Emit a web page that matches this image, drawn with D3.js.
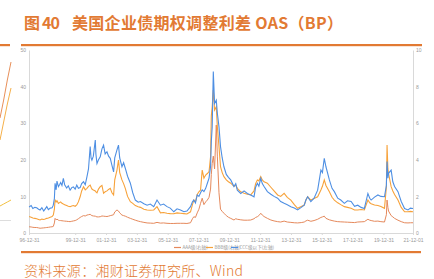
<!DOCTYPE html>
<html>
<head>
<meta charset="utf-8">
<script src="https://cdn.jsdelivr.net/npm/d3@7"></script>
<style>
  html, body { margin: 0; padding: 0; background: #fff; }
  svg { display: block; }
</style>
</head>
<body>
<svg id="chart" width="434" height="279"></svg>
<script>
// US corporate bond option-adjusted spreads by rating
const dates = [
  "1997-01-02","1997-02-20","1997-04-01","1997-05-20","1997-07-01","1997-08-15","1997-09-20","1997-11-01","1997-12-15","1998-01-20",
  "1998-02-25","1998-04-05","1998-05-18","1998-07-01","1998-07-30","1998-08-25","1998-09-10","1998-10-05","1998-10-25","1998-11-28",
  "1998-12-25","1999-01-20","1999-02-20","1999-03-25","1999-04-25","1999-06-12","1999-07-20","1999-09-01","1999-10-10","1999-11-18",
  "1999-12-30","2000-02-06","2000-03-15","2000-04-26","2000-06-01","2000-07-15","2000-08-25","2000-10-05","2000-11-10","2000-12-20",
  "2001-01-10","2001-01-30","2001-03-05","2001-04-20","2001-05-05","2001-05-30","2001-07-05","2001-08-15","2001-09-25","2001-11-02",
  "2001-12-10","2002-01-22","2002-03-01","2002-04-10","2002-05-20","2002-06-28","2002-07-25","2002-09-16","2002-10-22","2002-11-20",
  "2003-01-12","2003-02-20","2003-04-01","2003-05-25","2003-07-30","2003-09-25","2003-11-25","2004-02-01","2004-03-25","2004-06-15",
  "2004-08-30","2004-11-15","2005-02-03","2005-04-22","2005-07-12","2005-09-25","2005-12-15","2006-03-01","2006-05-25","2006-08-10",
  "2006-10-30","2007-01-20","2007-04-01","2007-06-25","2007-08-10","2007-09-12","2007-10-20","2007-12-01","2008-01-10","2008-02-18",
  "2008-03-28","2008-05-08","2008-06-18","2008-07-28","2008-09-06","2008-10-12","2008-10-30","2008-11-20","2008-12-16","2009-01-15",
  "2009-02-25","2009-03-22","2009-04-30","2009-06-05","2009-07-15","2009-08-25","2009-10-20","2009-12-10","2010-02-02","2010-04-20",
  "2010-06-01","2010-07-08","2010-09-28","2010-12-15","2011-03-03","2011-05-22","2011-08-08","2011-09-15","2011-10-26","2011-12-01",
  "2012-01-15","2012-02-20","2012-04-02","2012-06-20","2012-09-10","2012-11-25","2013-02-18","2013-05-01","2013-07-22","2013-10-05",
  "2013-12-28","2014-03-20","2014-06-06","2014-09-01","2014-11-10","2014-12-20","2015-01-30","2015-04-16","2015-07-01","2015-09-24",
  "2015-12-10","2016-01-15","2016-02-28","2016-04-08","2016-06-28","2016-08-30","2016-10-24","2017-01-12","2017-03-25","2017-06-18",
  "2017-09-01","2017-11-25","2018-02-15","2018-05-01","2018-07-20","2018-10-05","2018-12-28","2019-02-10","2019-03-15","2019-06-03",
  "2019-08-22","2019-11-01","2020-01-25","2020-03-10","2020-03-26","2020-04-15","2020-04-30","2020-07-01","2020-08-10","2020-09-20",
  "2020-12-10","2021-02-25","2021-05-15","2021-08-04","2021-10-01","2021-12-01"
];

// CCC & lower, left axis
const ccc = [
  7.1,7.5,6.7,7.0,6.9,6.5,6.3,6.9,6.0,6.6,
  7.2,6.4,6.8,6.9,7.6,9.5,13.6,11.8,14.2,12.7,
  13.2,13.8,13.0,14.9,13.2,12.3,12.9,11.7,12.4,12.6,
  12.0,13.1,12.2,12.4,13.5,14.0,13.2,15.4,17.5,23.6,
  20.5,19.9,21.0,25.4,21.5,19.0,20.0,20.8,23.0,24.0,
  21.6,22.2,21.0,20.4,18.5,16.7,20.5,22.7,24.0,20.5,
  18.1,19.2,17.7,15.5,13.6,11.0,9.0,8.4,8.6,8.0,
  7.6,7.9,7.2,9.0,7.6,7.9,7.2,6.8,5.8,6.6,
  6.3,5.8,6.0,7.2,8.5,9.0,8.2,10.4,10.0,11.0,
  11.8,11.3,12.2,13.6,15.0,18.1,25.0,29.0,44.1,35.4,
  36.3,32.7,29.0,23.6,20.5,18.1,16.0,15.2,14.5,12.7,
  13.5,11.7,10.8,11.5,10.8,10.4,9.9,12.5,13.6,12.8,
  14.9,13.5,12.7,11.3,10.6,10.0,9.5,8.6,8.1,7.7,
  7.2,6.8,6.3,7.0,7.6,9.0,9.9,8.6,9.5,11.7,
  17.2,16.5,20.4,18.1,14.5,12.2,11.3,9.5,9.0,8.1,
  8.8,8.6,7.3,7.6,7.0,6.7,10.8,9.5,9.0,9.8,
  10.4,10.0,9.9,13.0,19.5,15.0,16.3,17.2,14.0,12.7,
  11.3,8.6,6.7,6.3,6.8,6.7
];

// BBB, right axis
const bbb = [
  0.90,0.86,0.82,0.80,0.78,0.74,0.71,0.76,0.74,0.76,
  0.80,0.82,0.86,0.90,0.98,1.30,1.80,1.70,1.76,1.62,
  1.66,1.70,1.62,1.58,1.55,1.50,1.46,1.44,1.48,1.50,
  1.46,1.53,1.70,1.98,2.30,2.53,2.36,2.44,2.55,2.62,
  2.50,2.40,2.35,2.30,2.25,2.20,2.40,2.53,2.60,2.17,
  2.25,2.30,2.38,2.44,2.20,2.08,2.90,3.44,3.99,3.30,
  2.90,2.70,2.44,2.00,1.71,1.62,1.50,1.44,1.40,1.30,
  1.26,1.24,1.26,1.44,1.10,1.12,1.08,1.06,1.05,1.10,
  1.08,1.06,1.04,1.16,1.55,1.80,1.70,2.10,2.25,2.35,
  3.44,3.00,3.17,3.25,3.35,4.17,6.40,6.90,7.81,6.72,
  6.90,5.81,4.72,3.62,3.30,3.08,2.90,2.80,2.72,2.55,
  2.62,2.44,2.25,2.17,2.12,2.08,2.30,2.70,2.90,2.85,
  3.08,2.90,2.80,2.72,2.50,2.30,2.08,2.00,2.17,1.95,
  1.80,1.55,1.35,1.45,1.53,1.80,1.98,1.80,1.88,1.98,
  2.35,2.55,2.90,2.60,2.25,1.95,1.80,1.65,1.55,1.44,
  1.40,1.35,1.26,1.26,1.28,1.26,1.80,1.65,1.60,1.53,
  1.50,1.45,1.35,2.50,4.81,3.50,3.26,2.53,2.30,2.10,
  1.80,1.40,1.16,1.16,1.18,1.16
];

// AAA, right axis
const aaa = [
  0.34,0.33,0.31,0.30,0.30,0.28,0.26,0.27,0.28,0.29,
  0.30,0.31,0.33,0.34,0.36,0.55,0.80,0.72,0.76,0.70,
  0.68,0.68,0.67,0.66,0.65,0.64,0.63,0.62,0.64,0.66,
  0.68,0.72,0.78,0.85,0.90,0.95,0.93,0.98,1.00,1.02,
  0.98,0.95,0.93,0.92,0.90,0.88,0.88,0.89,0.93,0.92,
  0.91,0.90,0.92,0.95,0.97,1.00,1.15,1.26,1.20,1.10,
  0.98,0.95,0.92,0.86,0.80,0.75,0.70,0.65,0.62,0.58,
  0.55,0.54,0.53,0.58,0.54,0.55,0.53,0.52,0.52,0.53,
  0.53,0.53,0.52,0.56,0.78,0.89,0.85,1.10,1.30,1.62,
  1.90,1.55,1.70,1.80,1.95,2.40,3.20,3.80,4.20,3.50,
  5.90,4.20,2.20,1.30,1.18,1.08,0.95,0.86,0.80,0.71,
  0.78,0.75,0.72,0.70,0.70,0.71,0.78,0.85,0.89,0.95,
  1.08,0.98,0.90,0.80,0.71,0.66,0.62,0.60,0.65,0.60,
  0.58,0.56,0.55,0.57,0.60,0.66,0.70,0.64,0.68,0.75,
  0.85,0.88,0.92,0.80,0.72,0.68,0.65,0.62,0.61,0.60,
  0.59,0.58,0.57,0.60,0.61,0.62,0.75,0.70,0.68,0.64,
  0.65,0.62,0.60,1.00,1.80,1.40,1.20,0.95,0.88,0.80,
  0.70,0.62,0.56,0.55,0.56,0.56
];

const leftTicks = [0, 10, 20, 30, 40, 50];
const rightTicks = [0, 2, 4, 6, 8, 10];
const xTickLabels = ["96-12-31","99-12-31","01-12-31","03-12-31","05-12-31","07-12-31",
  "09-12-31","11-12-31","13-12-31","15-12-31","17-12-31","19-12-31","21-12-01"];
const legendNames = ["AAA级(右轴)", "BBB级(右轴)", "CCC级以下(左轴)"];

// edge of the neighbouring figure, clipped by the page margin
const sideX = [0, 1, 2, 3];
const sideA = [118, 100, 80, 62];
const sideB = [140, 122, 104, 88];
const sideC = [206, 204, 202, 200];

const orange = "#E27A33";
const colors = { aaa: "#E5895C", bbb: "#F7A23A", ccc: "#4E8FE3" };

const svg = d3.select("#chart");
const parse = d3.timeParse("%Y-%m-%d");
const parseTick = d3.timeParse("%y-%m-%d");
const T = dates.map(parse);

const plot = { left: 29, right: 413, top: 50, bottom: 233 };

const x = d3.scaleTime()
  .domain([parseTick("96-12-31"), parseTick("21-12-01")])
  .range([plot.left, plot.right]);
const yL = d3.scaleLinear().domain([0, 50]).range([plot.bottom, plot.top]);
const yR = d3.scaleLinear().domain([0, 10]).range([plot.bottom, plot.top]);

// title
const title = svg.append("g")
  .attr("font-family", "'Noto Sans CJK SC', 'Noto Sans', sans-serif")
  .attr("font-weight", "bold")
  .attr("fill", orange)
  .attr("font-size", 16);
title.append("text").attr("x", 24).attr("y", 29)
  .attr("textLength", 36).attr("lengthAdjust", "spacing").text("图 40");
title.append("text").attr("x", 72).attr("y", 29)
  .attr("textLength", 271).attr("lengthAdjust", "spacing")
  .text("美国企业债期权调整利差 OAS（BP）");

// frame rules
svg.append("rect").attr("x", 21).attr("y", 44).attr("width", 401).attr("height", 2.2).attr("fill", orange);
svg.append("rect").attr("x", 0).attr("y", 44).attr("width", 10).attr("height", 2.2).attr("fill", orange);
svg.append("rect").attr("x", 21).attr("y", 251).attr("width", 400).attr("height", 2.2).attr("fill", orange);

// neighbouring figure fragment
const sx = d3.scaleLinear().domain([0, 3]).range([0, 11]);
const sideLine = d3.line().x((d, i) => sx(sideX[i])).y(d => d);
svg.append("path").attr("d", sideLine(sideA)).attr("fill", "none").attr("stroke", "#E8905A").attr("stroke-width", 1);
svg.append("path").attr("d", sideLine(sideB)).attr("fill", "none").attr("stroke", "#F5B04A").attr("stroke-width", 1);
svg.append("path").attr("d", sideLine(sideC)).attr("fill", "none").attr("stroke", "#F2C040").attr("stroke-width", 1);
svg.append("line").attr("x1", 0).attr("x2", 11).attr("y1", 220.5).attr("y2", 220.5).attr("stroke", "#ddd");

// axes
const axisFont = "'Liberation Sans', Arial, sans-serif";
const gL = svg.append("g").attr("transform", `translate(${plot.left},0)`)
  .call(d3.axisLeft(yL).tickValues(leftTicks).tickSize(0).tickPadding(3));
const gR = svg.append("g").attr("transform", `translate(${plot.right},0)`)
  .call(d3.axisRight(yR).tickValues(rightTicks).tickSize(0).tickPadding(3));
const gX = svg.append("g").attr("transform", `translate(0,${plot.bottom})`)
  .call(d3.axisBottom(x).tickValues(xTickLabels.map(parseTick))
    .tickFormat((d, i) => xTickLabels[i]).tickSize(2).tickPadding(3));
[gL, gR, gX].forEach(g => {
  g.selectAll("path.domain").attr("stroke", "#d9d9d9").attr("stroke-width", 1);
  g.selectAll("line").attr("stroke", "#d9d9d9");
  g.selectAll("text").attr("font-family", axisFont).attr("font-size", 5).attr("fill", "#9a9a9a");
});

// series
const lineL = d3.line().x((d, i) => x(T[i])).y(d => yL(d));
const lineR = d3.line().x((d, i) => x(T[i])).y(d => yR(d));
svg.append("path").attr("d", lineR(aaa)).attr("fill", "none").attr("stroke", colors.aaa).attr("stroke-width", 1);
svg.append("path").attr("d", lineR(bbb)).attr("fill", "none").attr("stroke", colors.bbb).attr("stroke-width", 1.1);
svg.append("path").attr("d", lineL(ccc)).attr("fill", "none").attr("stroke", colors.ccc).attr("stroke-width", 1.1);

// legend, between the date labels and the bottom rule
const legendColors = [colors.aaa, colors.bbb, colors.ccc];
const legendX = [174, 206, 231];
const leg = svg.append("g").attr("transform", "translate(0,247.5)");
legendNames.forEach((name, i) => {
  leg.append("line").attr("x1", legendX[i]).attr("x2", legendX[i] + 7)
    .attr("y1", 0).attr("y2", 0).attr("stroke", legendColors[i]).attr("stroke-width", 1.2);
  leg.append("text").attr("x", legendX[i] + 8.5).attr("y", 0).attr("dy", "0.35em")
    .attr("font-family", "'Noto Sans CJK SC', sans-serif").attr("font-size", 4.6).attr("fill", "#9a9a9a")
    .text(name);
});

// source note
svg.append("text").attr("x", 24).attr("y", 276)
  .attr("font-family", "'Noto Sans CJK SC', sans-serif").attr("font-weight", 300)
  .attr("font-size", 14).attr("fill", orange)
  .attr("textLength", 219).attr("lengthAdjust", "spacing")
  .text("资料来源：湘财证券研究所、Wind");
</script>
</body>
</html>
